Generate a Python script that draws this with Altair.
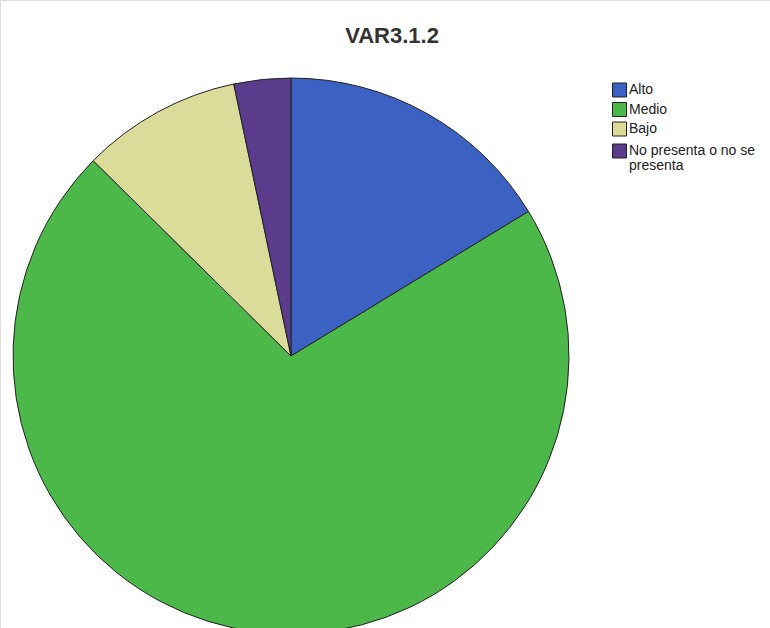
import altair as alt
import pandas as pd

categories = ["Alto", "Medio", "Bajo", "No presenta o no se presenta"]
legend_labels = ["Alto", "Medio", "Bajo", "No presenta o no se\npresenta"]
percentages = [16.3, 71.1, 9.3, 3.3]
colors = ["#3b62c2", "#4cb84a", "#dcdc9a", "#5b3b8c"]

df = pd.DataFrame({
    "categoria": categories,
    "etiqueta": legend_labels,
    "porcentaje": percentages,
    "orden": list(range(len(categories))),
})

color_scale = alt.Scale(domain=categories, range=colors)

pie = alt.Chart(df).mark_arc(
    x=291, y=356, outerRadius=278, stroke="#222222", strokeWidth=1
).encode(
    theta=alt.Theta("porcentaje:Q", stack=True),
    order=alt.Order("orden:O"),
    color=alt.Color("categoria:N", scale=color_scale, legend=None),
)

legend_y = alt.Y(
    "orden:Q",
    scale=alt.Scale(domain=[0, 1, 2, 3], range=[90, 109.5, 129, 151]),
    axis=None,
)

legend_symbols = alt.Chart(df).mark_square(
    size=196, stroke="#222222", strokeWidth=1, opacity=1
).encode(
    x=alt.value(619.5),
    y=legend_y,
    color=alt.Color("categoria:N", scale=color_scale, legend=None),
)

legend_text = alt.Chart(df).mark_text(
    align="left", baseline="middle", font="Liberation Sans", fontSize=14,
    lineBreak="\n", lineHeight=15, color="#222222"
).encode(
    x=alt.value(629),
    y=legend_y,
    text="etiqueta:N",
)

title_df = pd.DataFrame({"t": ["VAR3.1.2"]})
title = alt.Chart(title_df).mark_text(
    font="Liberation Sans", fontSize=22, fontWeight="bold", color="#333333",
    align="center", baseline="alphabetic"
).encode(
    text="t:N", x=alt.value(392), y=alt.value(43)
)

chart = alt.layer(pie, legend_symbols, legend_text, title).properties(
    width=770, height=628, autosize=alt.AutoSizeParams(type="none"), padding=0
).configure_view(stroke=None).configure(background="white")

chart.save("out.html", embed_options={"renderer": "svg", "actions": False})
